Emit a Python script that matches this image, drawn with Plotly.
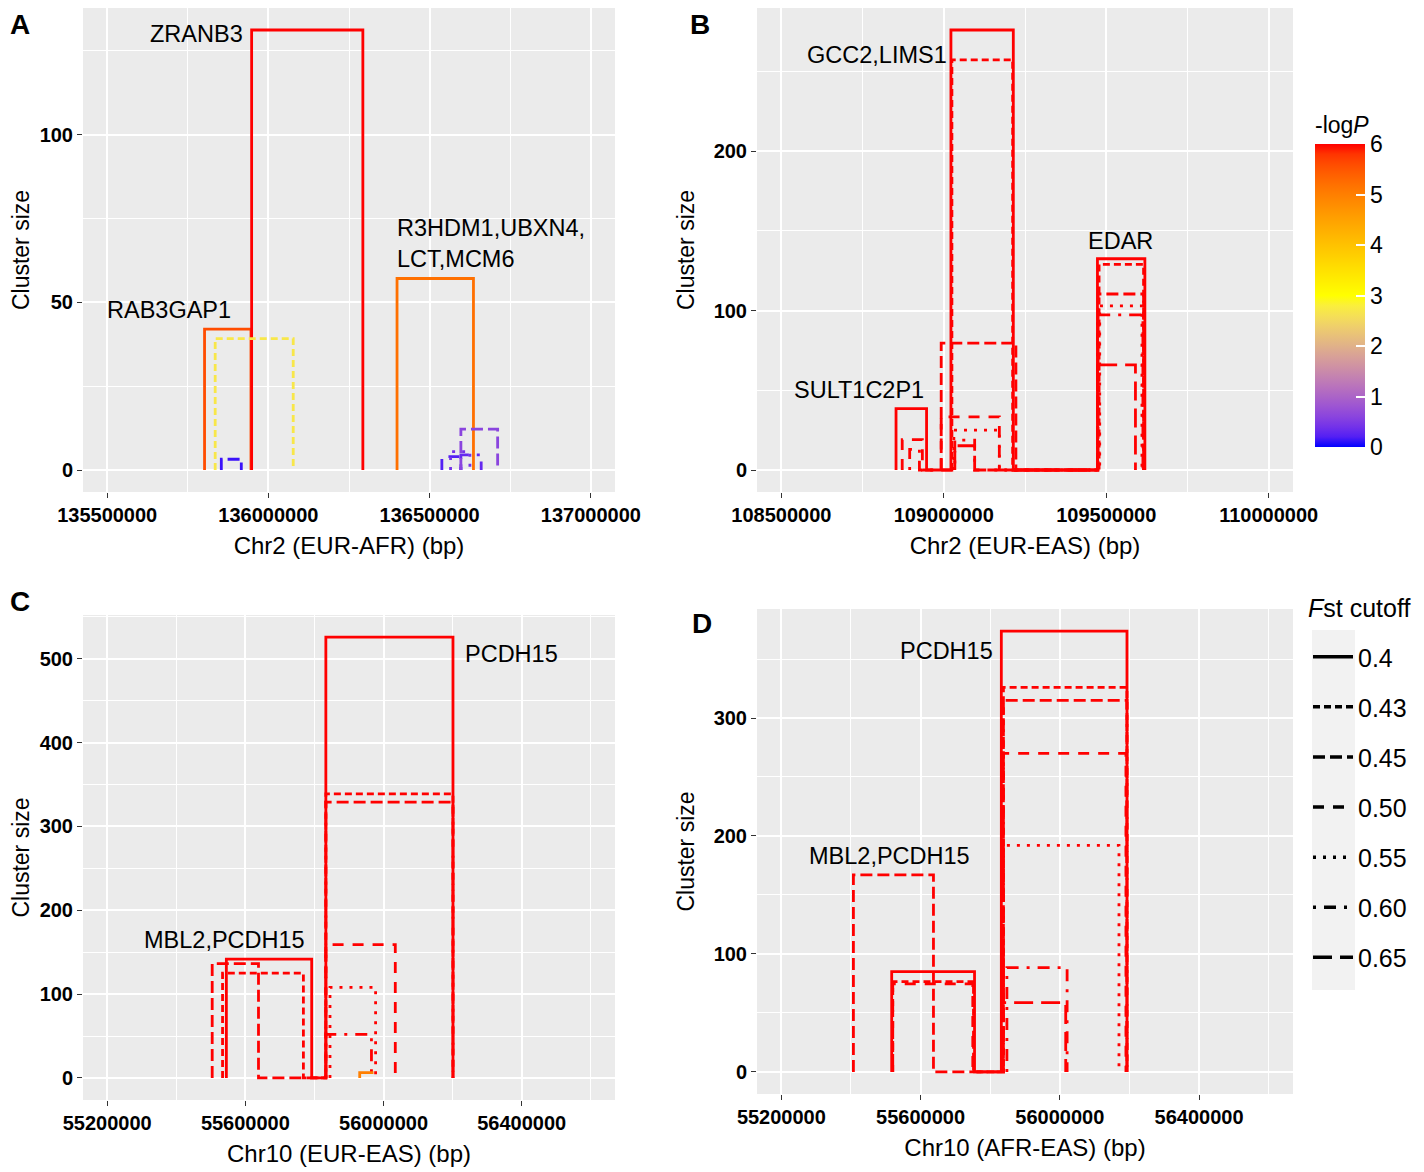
import plotly.graph_objects as go

# the page body keeps an 8px margin, so the figure is drawn 8px in from the window corner
OFF = 8
W, H = 1424 - OFF, 1172 - OFF

# Fst cutoffs and the ggplot-like line types used for them
cutoffs = ["0.4", "0.43", "0.45", "0.50", "0.55", "0.60", "0.65"]
dashes = ["solid", "7px,4px", "12px,5px", "11px,9px", "3px,7px", "3px,8px,12px,8px", "19px,8px"]

# clusters: (cutoff, -logP, [(start Mb, end Mb, cluster size), ...]); boxes in one path are joined along 0
clusters_a = [
    ("0.4", 5.6, [(135.802, 135.946, 42.0)]),
    ("0.4", 6.0, [(135.948, 136.293, 131.2)]),
    ("0.43", 2.7, [(135.835, 136.077, 39.2)]),
    ("0.45", 0.1, [(135.854, 135.916, 3.2)]),
    ("0.4", 5.2, [(136.399, 136.636, 57.1)]),
    ("0.50", 0.2, [(136.538, 136.597, 4.0)]),
    ("0.55", 0.4, [(136.565, 136.625, 5.5)]),
    ("0.60", 0.3, [(136.597, 136.660, 4.5)]),
    ("0.45", 0.6, [(136.597, 136.711, 12.2)]),
]
clusters_b = [
    ("0.4", 6.0, [(108.853, 108.947, 38.5), (109.022, 109.214, 276.0), (109.473, 109.619, 132.5)]),
    ("0.43", 6.0, [(109.025, 109.212, 257.3), (109.478, 109.615, 129.0)]),
    ("0.45", 6.0, [(108.992, 109.222, 79.6), (109.475, 109.615, 110.4)]),
    ("0.50", 6.0, [(108.872, 108.934, 19.0), (108.992, 109.171, 33.3)]),
    ("0.55", 6.0, [(109.031, 109.171, 25.0), (109.480, 109.610, 103.0)]),
    ("0.60", 6.0, [(108.895, 108.925, 13.0), (109.034, 109.095, 18.8), (109.473, 109.613, 97.3)]),
    ("0.65", 6.0, [(109.034, 109.095, 15.2), (109.473, 109.590, 66.0)]),
]
clusters_c = [
    ("0.4", 6.0, [(55.545, 55.792, 141.7), (55.833, 56.201, 526.0)]),
    ("0.43", 6.0, [(55.534, 55.768, 125.0), (55.833, 56.201, 339.0)]),
    ("0.45", 6.0, [(55.504, 55.638, 136.5), (55.833, 56.201, 329.0)]),
    ("0.50", 6.0, [(55.833, 56.034, 159.0)]),
    ("0.55", 6.0, [(55.845, 55.977, 108.0)]),
    ("0.60", 6.0, [(55.833, 55.965, 52.0)]),
    ("0.65", 5.0, [(55.931, 55.977, 6.3)]),
]
clusters_d = [
    ("0.4", 6.0, [(55.517, 55.755, 85.0), (55.832, 56.193, 373.7)]),
    ("0.43", 6.0, [(55.520, 55.752, 76.5), (55.838, 56.193, 326.0)]),
    ("0.45", 6.0, [(55.407, 55.637, 167.0), (55.838, 56.193, 315.0)]),
    ("0.50", 6.0, [(55.520, 55.750, 74.6), (55.838, 56.190, 270.0)]),
    ("0.55", 6.0, [(55.838, 56.170, 192.0)]),
    ("0.60", 6.0, [(55.848, 56.021, 88.4)]),
    ("0.65", 6.0, [(55.835, 56.017, 58.7)]),
]

# gene labels: (text, x Mb, y, anchor)
genes_a = [("ZRANB3", 135.926, 130, "right"), ("RAB3GAP1", 135.693, 47.6, "center"),
           ("R3HDM1,UBXN4,<br>LCT,MCM6", 136.393, 67.6, "left")]
genes_b = [("GCC2,LIMS1", 108.793, 260.6, "center"), ("EDAR", 109.545, 143.7, "center"),
           ("SULT1C2P1", 108.738, 50, "center")]
genes_c = [("PCDH15", 56.371, 506, "center"), ("MBL2,PCDH15", 55.540, 164.3, "center")]
genes_d = [("PCDH15", 55.675, 356.8, "center"), ("MBL2,PCDH15", 55.511, 183, "center")]

# panel boxes in window pixels
panels = [
    dict(tag="A", cl=clusters_a, genes=genes_a, xlim=(135.5, 137.0), xt=0.5, yt=50,
         title="Chr2 (EUR-AFR) (bp)", dom_x=(83, 615), dom_y=(8, 492), lab=(20, 25)),
    dict(tag="B", cl=clusters_b, genes=genes_b, xlim=(108.5, 110.0), xt=0.5, yt=100,
         title="Chr2 (EUR-EAS) (bp)", dom_x=(757, 1293), dom_y=(8, 492), lab=(700, 25)),
    dict(tag="C", cl=clusters_c, genes=genes_c, xlim=(55.2, 56.6), xt=0.4, yt=100,
         title="Chr10 (EUR-EAS) (bp)", dom_x=(83, 615), dom_y=(615, 1100), lab=(20, 601)),
    dict(tag="D", cl=clusters_d, genes=genes_d, xlim=(55.2, 56.6), xt=0.4, yt=100,
         title="Chr10 (AFR-EAS) (bp)", dom_x=(757, 1293), dom_y=(609, 1094), lab=(702, 623)),
]


def px(v):
    return (v - OFF) / W


def py(v):
    return 1 - (v - OFF) / H


# colour ramp blue -> yellow -> red interpolated in CIELAB (like ggplot gradientn)
def hex_rgb(h):
    return [int(h[i:i + 2], 16) / 255 for i in (1, 3, 5)]


def rgb_lab(c):
    lin = [((v + 0.055) / 1.055) ** 2.4 if v > 0.04045 else v / 12.92 for v in c]
    X = (0.4124 * lin[0] + 0.3576 * lin[1] + 0.1805 * lin[2]) / 0.95047
    Y = (0.2126 * lin[0] + 0.7152 * lin[1] + 0.0722 * lin[2])
    Z = (0.0193 * lin[0] + 0.1192 * lin[1] + 0.9505 * lin[2]) / 1.08883
    f = [t ** (1 / 3) if t > 0.008856 else 7.787 * t + 16 / 116 for t in (X, Y, Z)]
    return [116 * f[1] - 16, 500 * (f[0] - f[1]), 200 * (f[1] - f[2])]


def lab_hex(lab):
    fy = (lab[0] + 16) / 116
    fx = fy + lab[1] / 500
    fz = fy - lab[2] / 200
    inv = [t ** 3 if t ** 3 > 0.008856 else (t - 16 / 116) / 7.787 for t in (fx, fy, fz)]
    X, Y, Z = inv[0] * 0.95047, inv[1], inv[2] * 1.08883
    r = 3.2406 * X - 1.5372 * Y - 0.4986 * Z
    g = -0.9689 * X + 1.8758 * Y + 0.0415 * Z
    b = 0.0557 * X - 0.2040 * Y + 1.0570 * Z
    out = []
    for v in (r, g, b):
        v = 1.055 * v ** (1 / 2.4) - 0.055 if v > 0.0031308 else 12.92 * v
        out.append(int(round(min(max(v, 0), 1) * 255)))
    return "#%02x%02x%02x" % tuple(out)


ramp = [rgb_lab(hex_rgb(h)) for h in ["#0000ff", "#ffff00", "#ff0000"]]


def logp_color(v):
    t = min(max(v / 6, 0), 1) * 2
    i = min(int(t), 1)
    f = t - i
    return lab_hex([ramp[i][k] + (ramp[i + 1][k] - ramp[i][k]) * f for k in range(3)])


colorscale = [[i / 30, logp_color(6 * i / 30)] for i in range(31)]

fig = go.Figure()
layout = {}
annotations = []
tickfont = dict(size=20, color="black", family="Liberation Sans", weight="bold")

for n, p in enumerate(panels, start=1):
    sfx = "" if n == 1 else str(n)
    xa, ya = "x" + sfx, "y" + sfx
    ymax = max(b[2] for _, _, boxes in p["cl"] for b in boxes)
    for cut, lp, boxes in p["cl"]:
        xs, ys = [], []
        for s, e, size in boxes:
            xs += [s * 1e6, s * 1e6, e * 1e6, e * 1e6]
            ys += [0, size, size, 0]
        fig.add_trace(go.Scatter(
            x=xs, y=ys, mode="lines", xaxis=xa, yaxis=ya, showlegend=False, hoverinfo="skip",
            line=dict(color=logp_color(lp), width=2.8, dash=dashes[cutoffs.index(cut)])))
    x0, x1 = p["xlim"]
    xpad = (x1 - x0) * 0.05
    ypad = ymax * 0.05
    layout["xaxis" + sfx] = dict(
        domain=[px(p["dom_x"][0]), px(p["dom_x"][1])], anchor=ya, automargin=False,
        range=[(x0 - xpad) * 1e6, (x1 + xpad) * 1e6],
        tickmode="linear", tick0=x0 * 1e6, dtick=p["xt"] * 1e6, tickformat="d",
        showgrid=True, gridcolor="white", gridwidth=1.8, zeroline=False,
        minor=dict(tick0=x0 * 1e6, dtick=p["xt"] * 5e5, showgrid=True, gridcolor="white", gridwidth=0.9),
        ticks="outside", ticklen=5, tickwidth=1.4, tickcolor="#333333", tickfont=tickfont,
        title=dict(text=p["title"], standoff=12, font=dict(size=24, color="black")),
    )
    layout["yaxis" + sfx] = dict(
        domain=[py(p["dom_y"][1]), py(p["dom_y"][0])], anchor=xa, automargin=False,
        range=[-ypad, ymax + ypad],
        tickmode="linear", tick0=0, dtick=p["yt"],
        showgrid=True, gridcolor="white", gridwidth=1.8, zeroline=False,
        minor=dict(tick0=0, dtick=p["yt"] / 2, showgrid=True, gridcolor="white", gridwidth=0.9),
        ticks="outside", ticklen=5, tickwidth=1.4, tickcolor="#333333", tickfont=tickfont,
        title=dict(text="Cluster size", standoff=12, font=dict(size=23, color="black")),
    )
    for txt, gx, gy, anc in p["genes"]:
        annotations.append(dict(text=txt, x=gx * 1e6, y=gy, xref=xa, yref=ya, showarrow=False,
                                xanchor=anc, align="left", font=dict(size=23.5, color="black")))
    annotations.append(dict(text="<b>%s</b>" % p["tag"], x=px(p["lab"][0]), y=py(p["lab"][1]),
                            xref="paper", yref="paper", showarrow=False,
                            xanchor="center", yanchor="middle",
                            font=dict(size=28, color="black")))

# title of the Fst cutoff legend
annotations.append(dict(text="<i>F</i>st cutoff", x=px(1306), y=py(608), xref="paper", yref="paper",
                        showarrow=False, xanchor="left", yanchor="middle",
                        font=dict(size=25, color="black")))

# colour bar for -logP
fig.add_trace(go.Scatter(
    x=[None], y=[None], mode="markers", showlegend=False, hoverinfo="skip",
    marker=dict(color=[0], cmin=0, cmax=6, colorscale=colorscale, showscale=True,
                colorbar=dict(x=px(1315), xanchor="left", y=py(447), yanchor="bottom",
                              len=334, lenmode="pixels", thickness=50, xpad=0, ypad=0,
                              outlinewidth=0, tickvals=[0, 1, 2, 3, 4, 5, 6],
                              ticks="inside", ticklen=9, tickcolor="white", tickwidth=1.5,
                              tickfont=dict(size=23, color="black"),
                              title=dict(text="-log<i>P</i>", side="top",
                                         font=dict(size=23, color="black"))))))

# legend for the Fst cutoff line types
for i, cut in enumerate(cutoffs):
    fig.add_trace(go.Scatter(
        x=[None], y=[None], mode="lines", name=cut, legendgroup=cut, showlegend=True,
        line=dict(color="black", width=3.5, dash=dashes[i])))

layout.update(
    width=W, height=H, margin=dict(l=0, r=0, t=0, b=0),
    paper_bgcolor="white", plot_bgcolor="#ebebeb",
    font=dict(family="Liberation Sans", color="black"),
    annotations=annotations,
    legend=dict(x=px(1308), xanchor="left", y=py(634), yanchor="top",
                bgcolor="rgba(0,0,0,0)", tracegroupgap=14.6, itemwidth=40,
                font=dict(size=25, color="black")),
    shapes=[dict(type="rect", xref="paper", yref="paper", x0=px(1312), x1=px(1355),
                 y0=py(990), y1=py(630), fillcolor="#f2f2f2", line=dict(width=0),
                 layer="below")],
)
fig.update_layout(layout)

fig.write_html("out.html")
